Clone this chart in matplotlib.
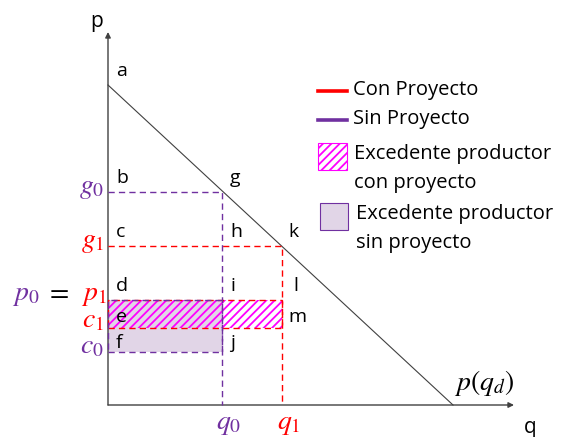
import matplotlib.pyplot as plt
from matplotlib.lines import Line2D
from matplotlib.patches import Rectangle

plt.rcParams['font.family'] = ['Open Sans', 'DejaVu Sans']
plt.rcParams['mathtext.fontset'] = 'stix'
plt.rcParams['hatch.linewidth'] = 1.3

# demand curve p(q_d), straight line between the two intercepts
a_int = 32.0   # price intercept (point a)
q_max = 34.5   # quantity intercept

# quantities without / with project
q0 = 11.4
q1 = 17.4

# prices and costs
g0 = 21.3
g1 = 15.9
p1 = 10.5
c1 = 7.7
c0 = 5.3

# point letters -> (q, p)
point_names = ['a', 'b', 'g', 'c', 'h', 'k', 'd', 'i', 'l', 'e', 'm', 'f', 'j']
point_q = [0, 0, q0, 0, q0, q1, 0, q0, q1, 0, q1, 0, q0]
point_p = [a_int, g0, g0, g1, g1, g1, p1, p1, p1, c1, c1, c0, c0]

legend_labels = ['Con Proyecto', 'Sin Proyecto',
                 'Excedente productor\ncon proyecto',
                 'Excedente productor\nsin proyecto']

RED = '#FF0000'
PURPLE = '#7030A0'
MAGENTA = '#FF00FF'
LAVENDER = '#E1D5E7'
DARK = '#404040'
DASH = (0, (4.5, 3))
HATCH = '////'

fig = plt.figure(figsize=(5.65, 4.37), dpi=100)
ax = fig.add_axes([0, 0, 1, 1])
ax.set_xlim(-10.8, 45.7)
ax.set_ylim(-3.2, 40.5)
ax.axis('off')

# axes with arrows
arrow = dict(arrowstyle='-|>', color=DARK, lw=1.0, mutation_scale=8,
             shrinkA=0, shrinkB=0)
ax.annotate('', xy=(40.6, 0), xytext=(0, 0), arrowprops=arrow)
ax.annotate('', xy=(0, 37.3), xytext=(0, 0), arrowprops=arrow)
ax.text(-1.1, 38.3, 'p', fontsize=15, ha='center', va='center')
ax.text(42.2, -2.3, 'q', fontsize=15, ha='center', va='center')

# demand
ax.plot([0, q_max], [a_int, 0], color=DARK, lw=0.8)

# surplus areas
ax.add_patch(Rectangle((0, c0), q0, p1 - c0, facecolor=LAVENDER,
                       edgecolor='none', zorder=1))
ax.add_patch(Rectangle((0, c1), q1, p1 - c1, facecolor='none',
                       edgecolor=MAGENTA, hatch=HATCH, lw=0, zorder=2))
ax.add_patch(Rectangle((0, c1), q1, p1 - c1, fill=False, edgecolor=RED,
                       lw=1.0, ls=DASH, zorder=3))
ax.add_patch(Rectangle((0, c0), q0, p1 - c0, fill=False, edgecolor=PURPLE,
                       lw=1.0, ls=DASH, zorder=4))

# guide lines
ax.plot([0, q0, q0], [g0, g0, 0], color=PURPLE, lw=1.0, ls=DASH, zorder=4)
ax.plot([0, q1, q1], [g1, g1, 0], color=RED, lw=1.0, ls=DASH, zorder=3)

# point letters
for name, q, p in zip(point_names, point_q, point_p):
    dy = 14
    if name in ('e', 'm'):
        dy = 11
    if name in ('f', 'j'):
        dy = 9
    dx = 8
    if name == 'l':
        dx = 11
    if name in ('m', 'k'):
        dx = 6
    ax.annotate(name, (q, p), xytext=(dx, dy), textcoords='offset pixels',
                ha='left', va='center', fontsize=14, zorder=6)

# axis math labels
mkw = dict(textcoords='offset pixels', ha='right', va='center', fontsize=20)
ax.annotate('$g_0$', (0, g0), xytext=(-4, 5), color=PURPLE, **mkw)
ax.annotate('$g_1$', (0, g1), xytext=(-4, 5), color=RED, **mkw)
ax.annotate('$p_1$', (0, p1), xytext=(-1, 6), color=RED, **mkw)
ax.annotate('$=$', (0, p1), xytext=(-39, 8), color='black', **mkw)
ax.annotate('$p_0$', (0, p1), xytext=(-69, 6), color=PURPLE, **mkw)
ax.annotate('$c_1$', (0, c1), xytext=(-4, 8), color=RED, **mkw)
ax.annotate('$c_0$', (0, c0), xytext=(-4, 6), color=PURPLE, **mkw)
bkw = dict(textcoords='offset pixels', ha='center', va='center', fontsize=20)
ax.annotate('$q_0$', (q0, 0), xytext=(7, -18), color=PURPLE, **bkw)
ax.annotate('$q_1$', (q1, 0), xytext=(7, -18), color=RED, **bkw)
ax.annotate('$p(q_d)$', (q_max, 0), xytext=(31, 22), color='black', **bkw)


# legend drawn by hand (handles line up with the first text line)
def fx(px):
    return px / 565


def fy(py):
    return 1 - py / 437


T = ax.transAxes
ax.add_line(Line2D([fx(318), fx(347)], [fy(91), fy(91)], color=RED, lw=2.6,
                   transform=T))
ax.add_line(Line2D([fx(318), fx(347)], [fy(120), fy(120)], color=PURPLE,
                   lw=2.6, transform=T))
ax.add_patch(Rectangle((fx(318), fy(170)), 29 / 565, 27 / 437, transform=T,
                       facecolor='white', edgecolor=MAGENTA, hatch=HATCH,
                       lw=0.8))
ax.add_patch(Rectangle((fx(320), fy(230)), 28 / 565, 27 / 437, transform=T,
                       facecolor=LAVENDER, edgecolor=PURPLE, lw=0.8))
lx = [353, 353, 354, 356]
ly = [90, 119, 144, 204]
for s, x, y in zip(legend_labels, lx, ly):
    if '\n' in s:
        ax.text(fx(x), fy(y), s, transform=T, fontsize=14.5, ha='left',
                va='top', linespacing=1.6)
    else:
        ax.text(fx(x), fy(y), s, transform=T, fontsize=14.5, ha='left',
                va='center')

fig.savefig('out.png', dpi=100)
